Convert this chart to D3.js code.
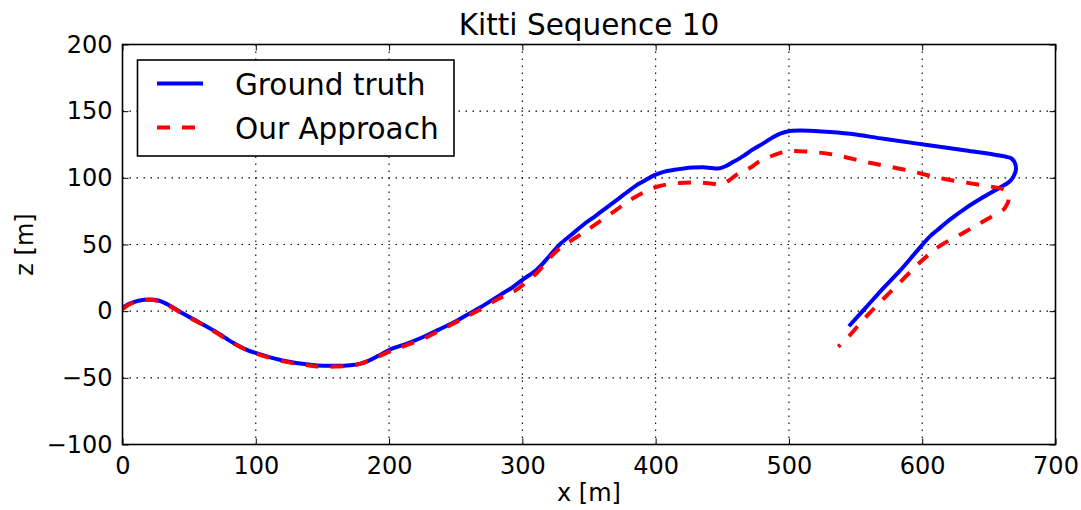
<!DOCTYPE html>
<html>
<head>
<meta charset="utf-8">
<script src="https://cdn.jsdelivr.net/npm/d3@7"></script>
<style>
html,body{margin:0;padding:0;background:#fff;}
svg{display:block;font-family:"DejaVu Sans",sans-serif;}
</style>
</head>
<body>
<svg id="chart" width="1081" height="510"></svg>
<script>
const titleText = "Kitti Sequence 10";
const xLabel = "x [m]";
const yLabel = "z [m]";
const xTicks = [0, 100, 200, 300, 400, 500, 600, 700];
const yTicks = [-100, -50, 0, 50, 100, 150, 200];
const seriesNames = ["Ground truth", "Our Approach"];

const gtX = [0,5,12,20,27,35,45,58,70,83,92,101,120,135,146,160,171,178,184,192,201,213,226,237,248,258,268,276,284,292,300,311,320,328,337,346,355,363,371,378,385,391,398,406,414,421,428,436,442,447,452,458,466,473,481,488,494,499,508,525,546,571,601,633,663,667,669.5,670.3,668.5,665.8,658,645,633,621,611,606,596,583,571,558,545];
const gtZ = [2.5,5.5,7.8,8.8,8,4.5,-1.5,-8.7,-15.5,-23.7,-28.5,-31.7,-37,-39.5,-40.7,-41,-40.5,-39.5,-37.5,-33.5,-28.7,-24.5,-19.2,-14,-8.7,-3,2.5,7.5,12.5,17.5,23.5,31.3,41,50,57.5,65,71.5,77.5,83.5,88.8,94,97.5,101.5,104.5,106,107,107.7,108,107.3,107,108.5,111.8,116.5,121.3,126,130.5,133.3,134.8,135.5,134.8,133,129.3,125,120.5,115.8,114.5,111.3,106,101,97.5,92.5,85,77.5,68.8,60.5,56.3,45,30,17.5,3,-11.3];

const estX = [0,5,12,20,27,35,45,58,70,83,92,101,120,135,146,160,171,178,184,192,201,213,226,237,248,258,268,281,289,296,303,311,317,323,330,338,346,353,362,371,378,386,393,401,410,421,431,441,449.5,455,461,466,471,478,486,496,508,533,558,586,616,646,661,664,664.6,663,661,646,631,613,605,598,583,568,556,545,537];
const estZ = [1.5,5,7.5,8.5,7.5,4,-2,-9,-16,-24,-28.5,-32,-37.5,-40,-41.5,-41.5,-41,-39.5,-37.5,-34,-30,-25.5,-20.5,-15,-9.5,-4,1,8.8,12.5,16.3,22,28.8,35.5,42.5,48.5,53.8,59,63.8,70,76.3,81.5,86.3,90,93.3,95.3,96.3,96.5,95.8,95,98,102.5,105,107.5,112.5,116,119.3,120,117.5,111.8,106.3,99.3,94.3,91.3,88.5,82.5,79,76.3,67.5,58.8,48.8,42.5,36.3,21.3,6.3,-6.3,-18.8,-26.7];

const gt = gtX.map((x,i)=>[x, gtZ[i]]);
const est = estX.map((x,i)=>[x, estZ[i]]);

const svg = d3.select("#chart");
const L = 122.5, R = 1055.5, T = 44.5, B = 444.5;
const x = d3.scaleLinear().domain([0,700]).range([L,R]);
const y = d3.scaleLinear().domain([-100,200]).range([B,T]);

// grid
const grid = svg.append("g");
grid.selectAll("line.gx").data(xTicks.slice(1,-1)).join("line")
  .attr("x1",d=>x(d)).attr("x2",d=>x(d)).attr("y1",T).attr("y2",B)
  .attr("stroke","#000").attr("stroke-width",1.1).attr("stroke-dasharray","1.5,5.5");
grid.selectAll("line.gy").data(yTicks.slice(1,-1)).join("line")
  .attr("y1",d=>y(d)).attr("y2",d=>y(d)).attr("x1",L).attr("x2",R)
  .attr("stroke","#000").attr("stroke-width",1.1).attr("stroke-dasharray","1.5,5.5");

// lines
svg.append("defs").append("clipPath").attr("id","clip")
  .append("rect").attr("x",L).attr("y",T).attr("width",R-L).attr("height",B-T);
const line = d3.line().x(d=>x(d[0])).y(d=>y(d[1])).curve(d3.curveCatmullRom.alpha(0.5));
const plot = svg.append("g").attr("clip-path","url(#clip)");
plot.append("path").datum(gt).attr("d",line).attr("fill","none")
  .attr("stroke","#0000ff").attr("stroke-width",4).attr("stroke-linejoin","round");
plot.append("path").datum(est).attr("d",line).attr("fill","none")
  .attr("stroke","#ff0000").attr("stroke-width",4).attr("stroke-dasharray","13,12");

// axes
const tickLen = 6;
const axB = svg.append("g").attr("transform",`translate(0,${B})`)
  .call(d3.axisBottom(x).tickValues(xTicks).tickSizeInner(-tickLen).tickSizeOuter(0).tickPadding(12));
const axL = svg.append("g").attr("transform",`translate(${L},0)`)
  .call(d3.axisLeft(y).tickValues(yTicks).tickSizeInner(-tickLen).tickSizeOuter(0).tickPadding(10));
const axT = svg.append("g").attr("transform",`translate(0,${T})`)
  .call(d3.axisTop(x).tickValues(xTicks).tickSizeInner(-tickLen).tickSizeOuter(0).tickFormat(""));
const axR = svg.append("g").attr("transform",`translate(${R},0)`)
  .call(d3.axisRight(y).tickValues(yTicks).tickSizeInner(-tickLen).tickSizeOuter(0).tickFormat(""));
[axB,axL,axT,axR].forEach(a=>{
  a.select(".domain").remove();
  a.selectAll(".tick line").attr("stroke","#000").attr("stroke-width",1);
  a.selectAll("text").attr("font-family","DejaVu Sans").attr("font-size",24).attr("fill","#000");
});
svg.append("rect").attr("x",L).attr("y",T).attr("width",R-L).attr("height",B-T)
  .attr("fill","none").attr("stroke","#000").attr("stroke-width",1.6);

// title & labels
svg.append("text").attr("x",(L+R)/2).attr("y",35).attr("text-anchor","middle")
  .attr("font-size",29.5).text(titleText);
svg.append("text").attr("x",(L+R)/2).attr("y",501).attr("text-anchor","middle")
  .attr("font-size",24).text(xLabel);
svg.append("text").attr("transform",`translate(33,${(T+B)/2}) rotate(-90)`).attr("text-anchor","middle")
  .attr("font-size",24).text(yLabel);

// legend
const lg = svg.append("g");
lg.append("rect").attr("x",137.5).attr("y",60).attr("width",316.5).attr("height",96)
  .attr("fill","#fff").attr("stroke","#000").attr("stroke-width",1.6);
const legItems = [{name:seriesNames[0], color:"#0000ff", dash:null, yy:83.5},
                  {name:seriesNames[1], color:"#ff0000", dash:"13,12", yy:127.5}];
legItems.forEach(it=>{
  lg.append("line").attr("x1",157).attr("x2",203).attr("y1",it.yy).attr("y2",it.yy)
    .attr("stroke",it.color).attr("stroke-width",4).attr("stroke-dasharray",it.dash);
  lg.append("text").attr("x",235).attr("y",it.yy+11).attr("font-size",29.5).text(it.name);
});
</script>
</body>
</html>
